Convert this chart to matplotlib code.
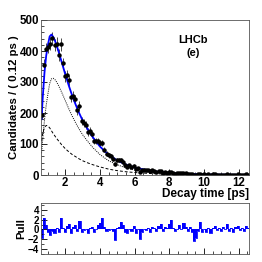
import matplotlib
matplotlib.use("Agg")
import matplotlib.pyplot as plt
import numpy as np
from matplotlib.ticker import MultipleLocator

# --- data ---------------------------------------------------------------
bin_lo, bin_w, n_bins = 0.6, 0.12, 100
counts = [195, 356, 405, 413, 424, 441, 419, 424, 388, 422,
          360, 318, 321, 306, 253, 255, 244, 209, 223, 175,
          167, 161, 139, 142, 132, 110, 109, 109, 103, 104,
          82, 68, 63, 61, 53, 36, 49, 48, 49, 42,
          32, 27, 31, 25, 29, 20, 22, 11, 15, 17,
          15, 16, 12, 15, 13, 9, 13, 13, 8, 9,
          8, 10, 11, 7, 4, 5, 6, 5, 7, 5,
          3, 4, 2, 0, 0, 2, 4, 1, 2, 1,
          2, 1, 2, 2, 1, 1, 1, 1, 1, 2,
          1, 1, 0, 1, 2, 1, 1, 0, 2, 1]
pulls = [-1.7, 2.4, 1.0, -0.6, -1.2, -0.4, -0.8, 0.3, -0.5, 2.4,
         0.4, -0.6, 0.8, 1.2, -0.8, 0.5, 0.9, -0.3, 1.8, -0.6,
         -0.2, 0.2, -0.7, 0.3, 0.5, -0.6, 0.2, 1.0, 1.3, 2.3,
         0.6, -0.3, -0.2, 0.1, -0.4, -2.1, 0.3, 0.6, 1.5, 0.9,
         -0.5, -0.8, 0.2, -0.3, 0.8, -0.7, 0.2, -1.9, -0.6, 0.0,
         -0.2, 0.4, -0.5, 0.6, 0.3, -0.4, 0.8, 1.1, -0.3, 0.5,
         0.3, 1.2, 1.9, 0.4, -0.4, 0.2, 0.9, 0.2, 1.4, 0.5,
         -0.3, 0.6, -0.5, -2.3, -1.8, -0.4, 1.6, -0.6, 0.2, -0.5,
         0.4, -0.8, 0.3, 0.7, -0.2, 0.3, -0.4, 0.5, 0.2, 1.2,
         -0.3, 0.4, -0.6, 0.5, 0.7, -0.2, 0.4, -0.3, 0.8, 0.3]

curve_t = [0.63, 0.7, 0.8, 0.9, 1.0, 1.1, 1.2, 1.3, 1.4, 1.5, 1.6, 1.8, 2.0,
           2.2, 2.4, 2.6, 2.8, 3.0, 3.3, 3.6, 4.0, 4.5, 5.0, 5.5, 6.0, 7.0,
           8.0, 9.0, 10.0, 11.0, 12.0, 12.6]
fast_comp = [110, 135, 153, 160, 158, 152, 143, 134, 126, 118, 111, 97, 85,
             75, 66, 59, 52, 46, 39, 33, 26, 19, 14, 10.5, 8, 4.5,
             2.5, 1.4, 0.8, 0.5, 0.3, 0.2]
slow_comp = [70, 115, 177, 225, 262, 295, 310, 312, 308, 300, 290, 266, 240,
             214, 190, 168, 148, 130, 108, 88, 66, 46, 33, 23, 16, 8,
             4, 2, 1, 0.5, 0.3, 0.2]

# --- figure -------------------------------------------------------------
plt.rcParams['font.family'] = ['Liberation Sans', 'DejaVu Sans']
plt.rcParams['font.weight'] = 'bold'
fig = plt.figure(figsize=(2.62, 2.62), dpi=100)
W = H = 262.0
ax = fig.add_axes([41 / W, 1 - 175 / H, 208 / W, 155 / H])
axp = fig.add_axes([41 / W, 1 - 254 / H, 208 / W, 51 / H])

centers = bin_lo + bin_w * (np.arange(n_bins) + 0.5)
cnt = np.array(counts, dtype=float)
total = np.array(fast_comp) + np.array(slow_comp)

ax.plot(curve_t, slow_comp, color='black', lw=0.7, ls=(0, (1, 1.2)))
ax.plot(curve_t, fast_comp, color='black', lw=0.7, ls=(0, (3, 2)))
ax.errorbar(centers, cnt, yerr=np.sqrt(cnt), xerr=bin_w / 2, fmt='o',
            color='black', ms=2.2, elinewidth=0.5, capsize=0)
ax.plot(curve_t, total, color='blue', lw=1.3)

ax.set_xlim(0.6, 12.6)
ax.set_ylim(0, 500)
ax.xaxis.set_major_locator(MultipleLocator(2))
ax.xaxis.set_minor_locator(MultipleLocator(0.5))
ax.yaxis.set_major_locator(MultipleLocator(100))
ax.yaxis.set_minor_locator(MultipleLocator(20))
for a, ls in ((ax, 8.3), (axp, 7.0)):
    a.tick_params(which='both', direction='in', top=False, right=False,
                  labelsize=ls, pad=1.5)
    a.tick_params(which='major', length=4, width=0.6)
    a.tick_params(which='minor', length=2, width=0.5)
    for s in a.spines.values():
        s.set_linewidth(0.6)
        s.set_color('#555555')
    for lab in a.get_xticklabels() + a.get_yticklabels():
        lab.set_fontweight('bold')

ax.set_ylabel('Candidates / ( 0.12 ps )', fontsize=8.2, fontweight='bold',
              labelpad=0)
ax.set_xlabel('Decay time [ps]', fontsize=8.5, fontweight='bold',
              loc='right', labelpad=-1)
ax.text(0.73, 0.871, 'LHCb', transform=ax.transAxes, fontsize=8,
        fontweight='bold', ha='center', va='center')
ax.text(0.73, 0.787, '(e)', transform=ax.transAxes, fontsize=8,
        fontweight='bold', ha='center', va='center')

axp.bar(centers, pulls, width=bin_w, color='blue', linewidth=0)
axp.step(np.r_[centers - bin_w / 2, centers[-1] + bin_w / 2],
         np.r_[pulls, pulls[-1]], where='post', color='blue', lw=0.6)
axp.set_xlim(0.6, 12.6)
axp.set_ylim(-5.0, 5.4)
axp.xaxis.set_major_locator(MultipleLocator(2))
axp.xaxis.set_minor_locator(MultipleLocator(0.5))
axp.yaxis.set_major_locator(MultipleLocator(2))
axp.yaxis.set_minor_locator(MultipleLocator(1))
axp.set_xticklabels([])
axp.set_ylabel('Pull', fontsize=8.2, fontweight='bold', labelpad=1)

fig.savefig('out.png', dpi=100)
